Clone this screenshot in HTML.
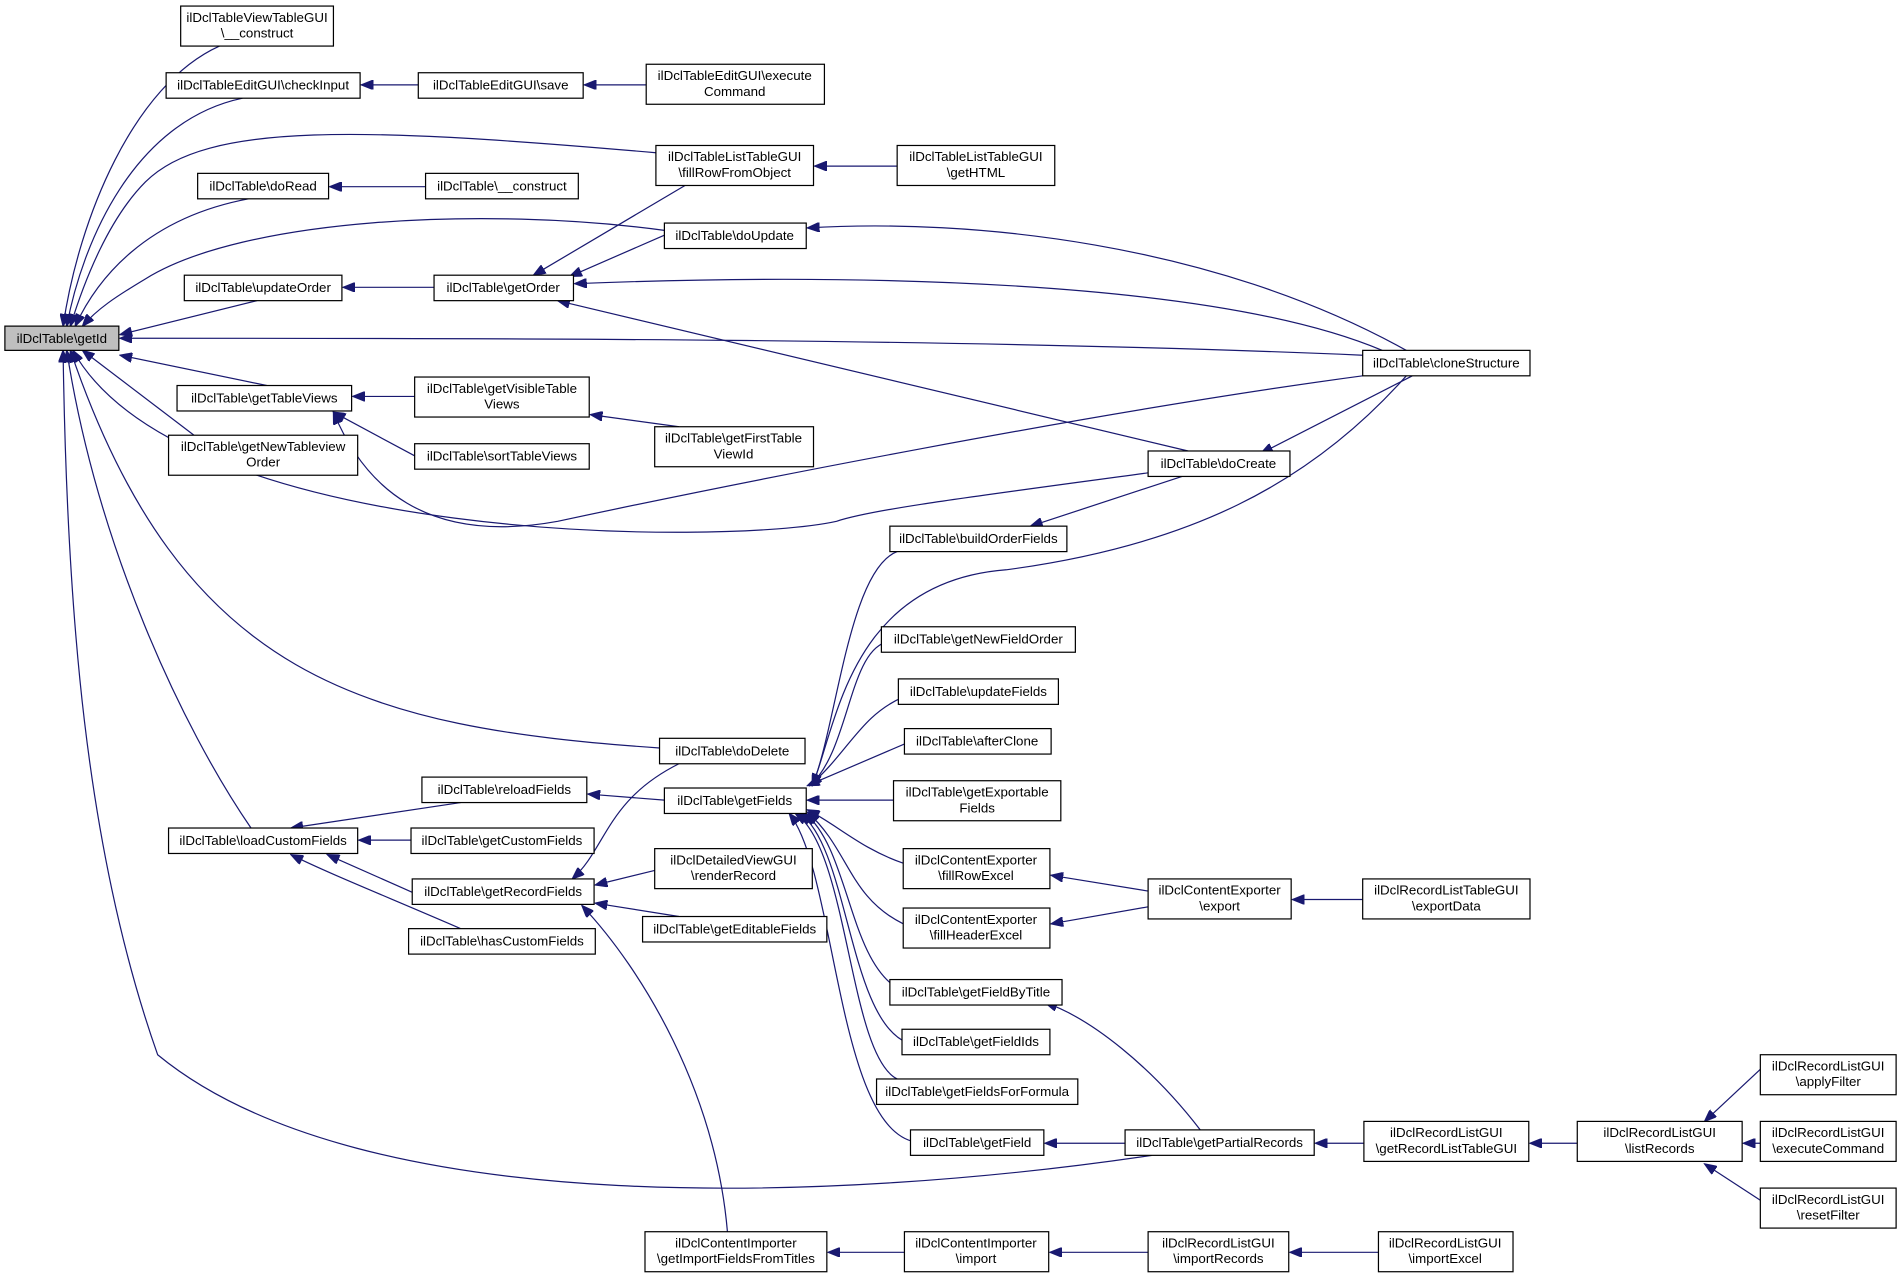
<!DOCTYPE html>
<html><head><meta charset="utf-8"><style>
html,body{margin:0;padding:0;background:#fff;width:1901px;height:1279px;overflow:hidden}
svg{display:block}
text{font-family:"Liberation Sans",sans-serif;font-size:11px;fill:#000;text-anchor:middle}
rect{fill:#fff;stroke:#000;stroke-width:1}
path{fill:none;stroke:#191970;stroke-width:1}
</style></head><body>
<svg width="1901" height="1279" viewBox="0 0 1568 1055" xmlns="http://www.w3.org/2000/svg">
<defs><marker id="a" markerWidth="11" markerHeight="8" refX="10" refY="4" orient="auto" markerUnits="userSpaceOnUse"><path d="M0,0 L10,4 L0,8 Z" style="fill:#191970;stroke:#191970"/></marker></defs>
<g marker-end="url(#a)">
<path d="M181,38 C110,70 65,180 52,269"/>
<path d="M200,81 C110,100 68,200 55,269"/>
<path d="M541,126 C300,105 170,100 120,150 C90,180 70,230 58,269"/>
<path d="M205,164 C120,180 80,230 62,269"/>
<path d="M548,190 C400,170 200,180 120,230 C95,245 80,255 68,269"/>
<path d="M212,248 L99,276"/>
<path d="M1124,293 C800,279 400,279 99,279"/>
<path d="M220,318 L99,293"/>
<path d="M160,359 L68,289"/>
<path d="M947,390 C800,410 720,420 690,430 C600,450 150,450 60,289"/>
<path d="M544,617 C300,600 150,560 58,289"/>
<path d="M207,683 C150,600 80,450 55,289"/>
<path d="M950,953 C700,990 300,1010 130,870 C70,700 55,500 52,289"/>
<path d="M345,70 L298,70"/>
<path d="M533,70 L482,70"/>
<path d="M740,137 L672,137"/>
<path d="M351,154 L272,154"/>
<path d="M358,237 L283,237"/>
<path d="M565,153 L440,227"/>
<path d="M548,194 L470,228"/>
<path d="M1160,289 C1000,200 800,180 666,188"/>
<path d="M1140,289 C1000,230 700,225 474,234"/>
<path d="M980,372 L460,248"/>
<path d="M1165,310 L1040,374"/>
<path d="M975,393 L850,434"/>
<path d="M342,327 L291,327"/>
<path d="M342,376 L275,340"/>
<path d="M560,352 L487,342"/>
<path d="M1124,310 C900,340 600,400 460,430 C350,450 300,400 275,340"/>
<path d="M548,660 L485,655"/>
<path d="M380,662 L240,683"/>
<path d="M339,693 L296,693"/>
<path d="M340,736 L270,705"/>
<path d="M380,766 C320,740 270,720 240,705"/>
<path d="M560,630 C500,660 500,700 472,725"/>
<path d="M540,718 L491,730"/>
<path d="M560,756 L491,745"/>
<path d="M600,1016 C590,900 530,800 480,747"/>
<path d="M740,455 C700,470 690,600 670,648"/>
<path d="M1160,310 C1080,400 980,450 830,470 C700,480 690,600 670,648"/>
<path d="M730,530 C700,540 700,620 668,648"/>
<path d="M745,575 C710,590 700,620 668,648"/>
<path d="M750,612 L666,648"/>
<path d="M737,660 L666,660"/>
<path d="M745,712 C710,700 690,680 666,668"/>
<path d="M745,762 C700,740 700,700 666,670"/>
<path d="M740,815 C700,790 700,700 664,671"/>
<path d="M748,860 C700,840 700,700 660,671"/>
<path d="M740,890 C700,870 700,700 656,671"/>
<path d="M755,942 C690,930 690,720 651,671"/>
<path d="M947,735 L867,722"/>
<path d="M947,748 L867,762"/>
<path d="M1124,742 L1066,742"/>
<path d="M990,932 C950,880 900,840 862,827"/>
<path d="M928,943 L862,943"/>
<path d="M1125,943 L1085,943"/>
<path d="M1301,943 L1262,943"/>
<path d="M1452,882 L1406,925"/>
<path d="M1452,943 L1438,943"/>
<path d="M1452,990 L1406,960"/>
<path d="M746,1033 L683,1033"/>
<path d="M947,1033 L866,1033"/>
<path d="M1137,1033 L1064,1033"/>
</g>
<rect x="4" y="269" width="94" height="20" style="fill:#bfbfbf"/><text x="51" y="283">ilDclTable\getId</text>
<rect x="149" y="5" width="126" height="33"/><text x="212" y="18">ilDclTableViewTableGUI</text><text x="212" y="31">\__construct</text>
<rect x="137" y="60" width="160" height="21"/><text x="217" y="74">ilDclTableEditGUI\checkInput</text>
<rect x="345" y="60" width="136" height="21"/><text x="413" y="74">ilDclTableEditGUI\save</text>
<rect x="533" y="53" width="147" height="33"/><text x="606" y="66">ilDclTableEditGUI\execute</text><text x="606" y="79">Command</text>
<rect x="541" y="120" width="130" height="33"/><text x="606" y="133">ilDclTableListTableGUI</text><text x="606" y="146">\fillRowFromObject</text>
<rect x="740" y="120" width="130" height="33"/><text x="805" y="133">ilDclTableListTableGUI</text><text x="805" y="146">\getHTML</text>
<rect x="163" y="143" width="108" height="21"/><text x="217" y="157">ilDclTable\doRead</text>
<rect x="351" y="143" width="126" height="21"/><text x="414" y="157">ilDclTable\__construct</text>
<rect x="548" y="184" width="117" height="21"/><text x="606" y="198">ilDclTable\doUpdate</text>
<rect x="152" y="227" width="130" height="21"/><text x="217" y="241">ilDclTable\updateOrder</text>
<rect x="358" y="227" width="115" height="21"/><text x="415" y="241">ilDclTable\getOrder</text>
<rect x="1124" y="289" width="138" height="21"/><text x="1193" y="303">ilDclTable\cloneStructure</text>
<rect x="146" y="318" width="144" height="21"/><text x="218" y="332">ilDclTable\getTableViews</text>
<rect x="342" y="311" width="144" height="33"/><text x="414" y="324">ilDclTable\getVisibleTable</text><text x="414" y="337">Views</text>
<rect x="342" y="366" width="144" height="21"/><text x="414" y="380">ilDclTable\sortTableViews</text>
<rect x="540" y="352" width="131" height="33"/><text x="605" y="365">ilDclTable\getFirstTable</text><text x="605" y="378">ViewId</text>
<rect x="139" y="359" width="156" height="33"/><text x="217" y="372">ilDclTable\getNewTableview</text><text x="217" y="385">Order</text>
<rect x="947" y="372" width="117" height="21"/><text x="1005" y="386">ilDclTable\doCreate</text>
<rect x="734" y="434" width="146" height="21"/><text x="807" y="448">ilDclTable\buildOrderFields</text>
<rect x="727" y="517" width="160" height="21"/><text x="807" y="531">ilDclTable\getNewFieldOrder</text>
<rect x="741" y="560" width="132" height="21"/><text x="807" y="574">ilDclTable\updateFields</text>
<rect x="746" y="601" width="121" height="21"/><text x="806" y="615">ilDclTable\afterClone</text>
<rect x="544" y="609" width="120" height="21"/><text x="604" y="623">ilDclTable\doDelete</text>
<rect x="548" y="650" width="117" height="21"/><text x="606" y="664">ilDclTable\getFields</text>
<rect x="348" y="641" width="136" height="21"/><text x="416" y="655">ilDclTable\reloadFields</text>
<rect x="737" y="644" width="138" height="33"/><text x="806" y="657">ilDclTable\getExportable</text><text x="806" y="670">Fields</text>
<rect x="139" y="683" width="156" height="21"/><text x="217" y="697">ilDclTable\loadCustomFields</text>
<rect x="339" y="683" width="151" height="21"/><text x="414" y="697">ilDclTable\getCustomFields</text>
<rect x="340" y="725" width="150" height="21"/><text x="415" y="739">ilDclTable\getRecordFields</text>
<rect x="540" y="700" width="130" height="33"/><text x="605" y="713">ilDclDetailedViewGUI</text><text x="605" y="726">\renderRecord</text>
<rect x="745" y="700" width="121" height="33"/><text x="805" y="713">ilDclContentExporter</text><text x="805" y="726">\fillRowExcel</text>
<rect x="947" y="725" width="118" height="33"/><text x="1006" y="738">ilDclContentExporter</text><text x="1006" y="751">\export</text>
<rect x="1124" y="725" width="138" height="33"/><text x="1193" y="738">ilDclRecordListTableGUI</text><text x="1193" y="751">\exportData</text>
<rect x="530" y="756" width="152" height="21"/><text x="606" y="770">ilDclTable\getEditableFields</text>
<rect x="337" y="766" width="154" height="21"/><text x="414" y="780">ilDclTable\hasCustomFields</text>
<rect x="745" y="749" width="121" height="33"/><text x="805" y="762">ilDclContentExporter</text><text x="805" y="775">\fillHeaderExcel</text>
<rect x="734" y="808" width="142" height="21"/><text x="805" y="822">ilDclTable\getFieldByTitle</text>
<rect x="744" y="849" width="122" height="21"/><text x="805" y="863">ilDclTable\getFieldIds</text>
<rect x="723" y="890" width="166" height="21"/><text x="806" y="904">ilDclTable\getFieldsForFormula</text>
<rect x="751" y="932" width="110" height="21"/><text x="806" y="946">ilDclTable\getField</text>
<rect x="928" y="932" width="156" height="21"/><text x="1006" y="946">ilDclTable\getPartialRecords</text>
<rect x="1125" y="925" width="136" height="33"/><text x="1193" y="938">ilDclRecordListGUI</text><text x="1193" y="951">\getRecordListTableGUI</text>
<rect x="1301" y="925" width="136" height="33"/><text x="1369" y="938">ilDclRecordListGUI</text><text x="1369" y="951">\listRecords</text>
<rect x="1452" y="870" width="112" height="33"/><text x="1508" y="883">ilDclRecordListGUI</text><text x="1508" y="896">\applyFilter</text>
<rect x="1452" y="925" width="112" height="33"/><text x="1508" y="938">ilDclRecordListGUI</text><text x="1508" y="951">\executeCommand</text>
<rect x="1452" y="980" width="112" height="33"/><text x="1508" y="993">ilDclRecordListGUI</text><text x="1508" y="1006">\resetFilter</text>
<rect x="532" y="1016" width="150" height="33"/><text x="607" y="1029">ilDclContentImporter</text><text x="607" y="1042">\getImportFieldsFromTitles</text>
<rect x="746" y="1016" width="119" height="33"/><text x="805" y="1029">ilDclContentImporter</text><text x="805" y="1042">\import</text>
<rect x="947" y="1016" width="116" height="33"/><text x="1005" y="1029">ilDclRecordListGUI</text><text x="1005" y="1042">\importRecords</text>
<rect x="1137" y="1016" width="111" height="33"/><text x="1192" y="1029">ilDclRecordListGUI</text><text x="1192" y="1042">\importExcel</text>
</svg>
</body></html>
